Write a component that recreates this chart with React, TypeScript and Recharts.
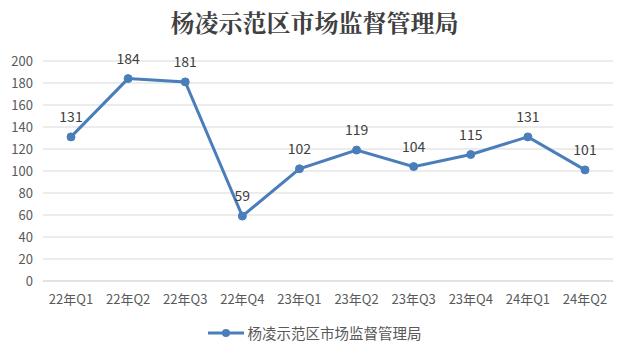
import React from "react";
import { LineChart, Line, XAxis, YAxis, CartesianGrid, LabelList } from "recharts";

const categories = ["22年Q1", "22年Q2", "22年Q3", "22年Q4", "23年Q1", "23年Q2", "23年Q3", "23年Q4", "24年Q1", "24年Q2"];
const values = [131, 184, 181, 59, 102, 119, 104, 115, 131, 101];
const yTicks = [0, 20, 40, 60, 80, 100, 120, 140, 160, 180, 200];
const seriesName = "杨凌示范区市场监督管理局";
const title = "杨凌示范区市场监督管理局";

const data = categories.map((c, i) => ({ name: c, value: values[i] }));

const COLOR = "#4a7ebb";
const FONT = "'Noto Sans CJK SC', 'Noto Sans', sans-serif";

export default function App() {
  return (
    <div style={{ position: "absolute", left: 0, top: 0, width: 629, height: 355, background: "#fff", fontFamily: FONT }}>
      <div style={{ position: "absolute", left: 0, top: 4, width: 629, textAlign: "center", fontSize: 24, fontWeight: 700, color: "#404040", fontFamily: "'Noto Serif CJK SC', 'Noto Sans CJK SC', serif" }}>
        {title}
      </div>
      <LineChart width={629} height={355} data={data} margin={{ top: 61, right: 16, bottom: 44, left: 8 }}>
        <CartesianGrid vertical={false} stroke="#d9d9d9" />
        <XAxis
          dataKey="name"
          padding={{ left: 28, right: 28 }}
          axisLine={{ stroke: "#d9d9d9" }}
          tickLine={false}
          tick={{ fill: "#595959", fontSize: 13, fontFamily: FONT }}
          tickMargin={8}
          interval={0}
        />
        <YAxis
          width={35}
          domain={[0, 200]}
          ticks={yTicks}
          interval={0}
          axisLine={false}
          tickLine={false}
          tick={{ fill: "#595959", fontSize: 13, fontFamily: FONT }}
          tickMargin={4}
        />
        <Line
          type="linear"
          dataKey="value"
          name={seriesName}
          stroke={COLOR}
          strokeWidth={3}
          dot={{ r: 4, fill: COLOR, stroke: COLOR, strokeWidth: 1 }}
          isAnimationActive={false}
        >
          <LabelList dataKey="value" position="top" offset={15} fill="#404040" fontSize={14} fontFamily={FONT} />
        </Line>
      </LineChart>
      <div style={{ position: "absolute", left: 0, top: 322, width: 629, display: "flex", justifyContent: "center", alignItems: "center" }}>
        <svg width={36} height={12} style={{ marginRight: 4 }}>
          <line x1={0} y1={6} x2={36} y2={6} stroke={COLOR} strokeWidth={3} />
          <circle cx={18} cy={6} r={4} fill={COLOR} />
        </svg>
        <span style={{ fontSize: 14.5, color: "#595959" }}>{seriesName}</span>
      </div>
    </div>
  );
}
